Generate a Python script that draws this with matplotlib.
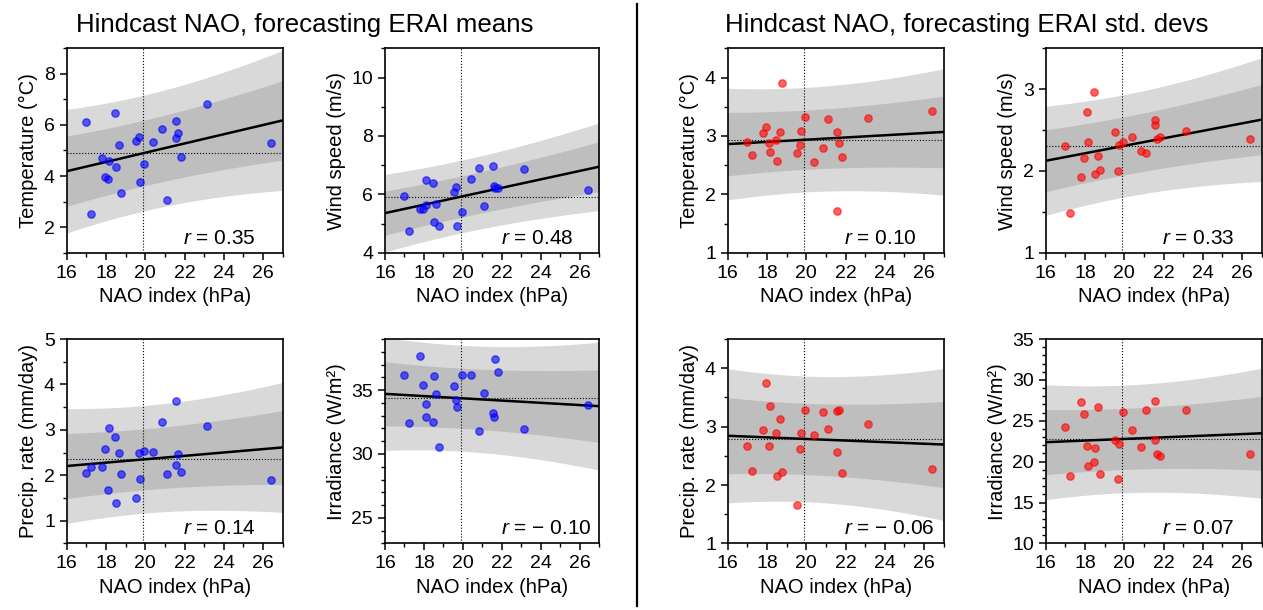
import numpy as np
import matplotlib
matplotlib.use("Agg")
import matplotlib.pyplot as plt
from matplotlib.ticker import MultipleLocator
from matplotlib.lines import Line2D

plt.rcParams['font.family'] = ['Liberation Sans', 'DejaVu Sans']
plt.rcParams['mathtext.fontset'] = 'custom'
plt.rcParams['mathtext.rm'] = 'Liberation Sans'
plt.rcParams['mathtext.it'] = 'Liberation Sans:italic'

# winter NAO index from the hindcast (hPa), one value per year
nao_index = [16.97, 17.22, 17.80, 17.96, 18.09, 18.13, 18.47, 18.50, 18.64, 18.79, 19.54, 19.67,
             19.71, 19.95, 20.40, 20.85, 21.10, 21.56, 21.58, 21.65, 21.80, 23.12, 26.40]

# ERAI seasonal means
temp_mean = [6.10, 2.52, 4.71, 3.97, 3.89, 4.57, 6.46, 4.35, 5.20, 3.33, 5.39, 5.52,
             3.75, 4.48, 5.33, 5.84, 3.06, 6.14, 5.48, 5.69, 4.74, 6.81, 5.29]
wind_mean = [5.95, 4.75, 5.48, 5.50, 5.62, 6.49, 6.40, 5.04, 5.68, 4.93, 6.08, 6.24,
             4.90, 5.39, 6.52, 6.90, 5.60, 6.96, 6.27, 6.23, 6.22, 6.86, 6.16]
precip_mean = [2.06, 2.19, 2.19, 2.57, 1.68, 3.04, 2.85, 1.39, 2.48, 2.02, 1.50, 2.50,
               1.91, 2.54, 2.51, 3.18, 2.03, 3.63, 2.23, 2.47, 2.08, 3.08, 1.90]
irr_mean = [36.15, 32.43, 37.68, 35.42, 32.93, 33.95, 32.53, 36.13, 34.66, 30.51, 35.34, 34.24,
            33.66, 36.21, 36.21, 31.80, 34.74, 33.24, 32.90, 37.41, 36.42, 31.96, 33.82]

# ERAI seasonal standard deviations
temp_std = [2.89, 2.67, 3.05, 3.16, 2.88, 2.72, 2.93, 2.57, 3.06, 3.91, 2.71, 2.85,
            3.08, 3.33, 2.55, 2.80, 3.29, 1.72, 3.06, 2.88, 2.64, 3.30, 3.42]
wind_std = [2.31, 1.49, 1.92, 2.16, 2.72, 2.35, 2.97, 1.96, 2.18, 2.01, 2.48, 2.00,
            2.32, 2.36, 2.41, 2.25, 2.22, 2.62, 2.56, 2.39, 2.41, 2.49, 2.39]
precip_std = [2.67, 2.24, 2.94, 3.74, 2.67, 3.35, 2.89, 2.15, 3.13, 2.23, 1.66, 2.62,
              2.89, 3.28, 2.85, 3.25, 2.96, 3.27, 2.57, 3.28, 2.21, 3.04, 2.27]
irr_std = [24.18, 18.20, 27.34, 25.82, 21.97, 19.51, 20.00, 21.72, 26.68, 18.44, 22.62, 17.91,
           22.21, 26.02, 23.93, 21.76, 26.35, 27.46, 22.70, 20.90, 20.66, 26.31, 20.94]

r_means = [0.35, 0.48, 0.14, -0.10]
r_stds = [0.10, 0.33, -0.06, 0.07]

ylabels = ["Temperature (°C)", "Wind speed (m/s)", "Precip. rate (mm/day)", "Irradiance (W/m²)"]

W, H = 1263, 610


def px_axes(fig, left, top, width, height):
    # place an axes using pixel coordinates measured from the top-left corner
    return fig.add_axes([left / W, 1 - (top + height) / H, width / W, height / H])


def r_label(r):
    if r < 0:
        return r"$r$ = − %.2f" % abs(r)
    return r"$r$ = %.2f" % r


def plot_panel(ax, x, y, color, ylabel, ylim, ymajor, yminor, r):
    x = np.asarray(x)
    y = np.asarray(y)
    n = len(x)
    slope, intercept = np.polyfit(x, y, 1)
    resid = y - (slope * x + intercept)
    s = np.sqrt(np.sum(resid ** 2) / (n - 2))
    sxx = np.sum((x - x.mean()) ** 2)

    xx = np.linspace(16, 27, 200)
    yy = slope * xx + intercept
    se = s * np.sqrt(1 + 1 / n + (xx - x.mean()) ** 2 / sxx)

    # prediction bands, outer then inner
    ax.fill_between(xx, yy - 2.08 * se, yy + 2.08 * se, color='#d9d9d9', lw=0, zorder=1)
    ax.fill_between(xx, yy - 1.18 * se, yy + 1.18 * se, color='#bebebe', lw=0, zorder=1)
    ax.axvline(x.mean(), color='k', ls=':', lw=0.8, zorder=2)
    ax.axhline(y.mean(), color='k', ls=':', lw=0.8, zorder=2)
    ax.plot(xx, yy, color='k', lw=1.8, zorder=2)
    ax.scatter(x, y, s=28, color=color, alpha=0.6, lw=1, zorder=3)

    ax.set_xlim(16, 27)
    ax.set_ylim(*ylim)
    ax.xaxis.set_major_locator(MultipleLocator(2))
    ax.xaxis.set_minor_locator(MultipleLocator(1))
    ax.yaxis.set_major_locator(MultipleLocator(ymajor))
    ax.yaxis.set_minor_locator(MultipleLocator(yminor))
    ax.tick_params(which='major', length=5, width=1.1, labelsize=14)
    ax.tick_params(which='minor', length=3, width=1.0)
    for sp in ax.spines.values():
        sp.set_linewidth(1.2)
    ax.set_xlabel("NAO index (hPa)", fontsize=14.5)
    ax.set_ylabel(ylabel, fontsize=14.5)
    ax.text(0.54, 0.045, r_label(r), transform=ax.transAxes,
            fontsize=15, ha='left', va='baseline', zorder=4)


fig = plt.figure(figsize=(W / 100, H / 100), dpi=100)

lefts = [66.7, 385.0, 727.7, 1045.7]
widths = [216, 214.3, 216, 216]
tops = [48.3, 339.0]
height = 204.4

mean_series = [temp_mean, wind_mean, precip_mean, irr_mean]
std_series = [temp_std, wind_std, precip_std, irr_std]
mean_ylims = [((1, 9), 2, 1), ((4, 11), 2, 1), ((0.5, 5), 1, 0.5), ((23, 39), 5, 1)]
std_ylims = [((1, 4.5), 1, 0.5), ((1, 3.5), 1, 0.5), ((1, 4.5), 1, 0.5), ((10, 35), 5, 1)]

for i in range(4):
    row, col = divmod(i, 2)
    ax = px_axes(fig, lefts[col], tops[row], widths[col], height)
    lim, maj, mnr = mean_ylims[i]
    plot_panel(ax, nao_index, mean_series[i], 'blue', ylabels[i], lim, maj, mnr, r_means[i])

    ax = px_axes(fig, lefts[col + 2], tops[row], widths[col + 2], height)
    lim, maj, mnr = std_ylims[i]
    plot_panel(ax, nao_index, std_series[i], 'red', ylabels[i], lim, maj, mnr, r_stds[i])

fig.text(305 / W, 1 - 25 / H, "Hindcast NAO, forecasting ERAI means",
         fontsize=18.6, ha='center', va='center')
fig.text(967 / W, 1 - 25 / H, "Hindcast NAO, forecasting ERAI std. devs",
         fontsize=18.6, ha='center', va='center')

# divider between the two groups of panels
fig.add_artist(Line2D([636.7 / W, 636.7 / W], [1 - 4 / H, 1 - 606 / H],
                      color='k', lw=1.6, transform=fig.transFigure))

fig.savefig("out.png", dpi=100)
